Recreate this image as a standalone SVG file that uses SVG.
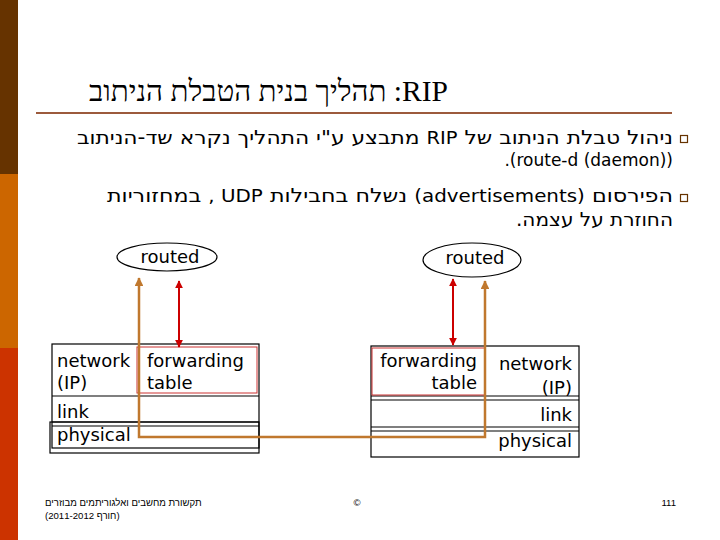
<svg xmlns="http://www.w3.org/2000/svg" width="720" height="540" viewBox="0 0 720 540">
<style>
.title{font-family:"Liberation Serif",serif;font-size:29.5px;fill:#000}
.body{font-family:"DejaVu Sans",sans-serif;font-size:19px;fill:#000}
.lat{font-size:17px}
.lbl{font-family:"DejaVu Sans",sans-serif;font-size:18px;fill:#000}
.foot{font-family:"Liberation Sans","DejaVu Sans",sans-serif;font-size:9.6px;fill:#000}
.box{fill:none;stroke:#000;stroke-width:1.2}
.fwd{fill:none;stroke:#CC3333;stroke-width:1}
.red{fill:none;stroke:#CC0000;stroke-width:2}
.org{fill:none;stroke:#C0782E;stroke-width:2.5}
.bul{fill:none;stroke:#663300;stroke-width:1.2}
</style>
<defs>
<marker id="ar" viewBox="0 0 10 10" refX="9" refY="5" markerWidth="4" markerHeight="4" orient="auto-start-reverse"><path d="M0,0 L10,5 L0,10 z" fill="#CC0000"/></marker>
<marker id="ao" viewBox="0 0 10 10" refX="9" refY="5" markerWidth="3.5" markerHeight="3.5" orient="auto-start-reverse"><path d="M0,0 L10,5 L0,10 z" fill="#C0782E"/></marker>
</defs>
<rect width="720" height="540" fill="#fff"/>
<g id="sidebar">
<rect x="0" y="0" width="18" height="174" fill="#663300"/>
<rect x="0" y="174" width="18" height="174" fill="#CC6600"/>
<rect x="0" y="348" width="18" height="192" fill="#CC3300"/>
</g>
<g id="title">
<text class="title" x="448" y="101" direction="rtl" text-anchor="start">RIP: תהליך בנית הטבלת הניתוב</text>
<line x1="36" y1="113" x2="672" y2="113" stroke="#9C5A3C" stroke-width="2"/>
</g>
<g id="bullets">
<rect class="bul" x="680.5" y="135.5" width="7" height="7"/>
<rect class="bul" x="680.5" y="194.5" width="7" height="7"/>
<text class="body" x="673" y="144" direction="rtl" text-anchor="start" textLength="596" lengthAdjust="spacingAndGlyphs">ניהול טבלת הניתוב של <tspan class="lat">RIP</tspan> מתבצע ע"י התהליך נקרא שד-הניתוב</text>
<text class="body lat" x="673" y="166" direction="rtl" text-anchor="start">(route-d (daemon)).</text>
<text class="body" x="673" y="202" direction="rtl" text-anchor="start" textLength="566" lengthAdjust="spacingAndGlyphs">הפירסום <tspan class="lat">(advertisements)</tspan> נשלח בחבילות <tspan class="lat">UDP ,</tspan> במחזוריות</text>
<text class="body" x="673" y="226" direction="rtl" text-anchor="start" textLength="157" lengthAdjust="spacingAndGlyphs">החוזרת על עצמה.</text>
</g>
<g id="routed-left">
<ellipse class="box" cx="167" cy="257" rx="50" ry="14" stroke-width="1"/>
<text class="lbl" x="170" y="263" text-anchor="middle">routed</text>
</g>
<g id="routed-right">
<ellipse class="box" cx="472" cy="260" rx="49" ry="17" stroke-width="1"/>
<text class="lbl" x="475" y="264" text-anchor="middle">routed</text>
</g>
<g id="stack-left">
<rect class="box" x="52" y="344" width="207" height="104"/>
<line class="box" x1="52" y1="396" x2="259" y2="396"/>
<line class="box" x1="52" y1="422" x2="259" y2="422"/>
<line class="box" x1="52" y1="426" x2="259" y2="426"/>
<rect class="box" x="50" y="422" width="209" height="31"/>
<rect class="fwd" x="137" y="347" width="120" height="46"/>
<text class="lbl" x="57" y="367">network</text>
<text class="lbl" x="57" y="389">(IP)</text>
<text class="lbl" x="147" y="367">forwarding</text>
<text class="lbl" x="147" y="389">table</text>
<text class="lbl" x="57" y="418">link</text>
<text class="lbl" x="57" y="441">physical</text>
</g>
<g id="stack-right">
<rect class="box" x="371" y="346" width="208" height="111"/>
<line class="box" x1="371" y1="396" x2="579" y2="396"/>
<line class="box" x1="371" y1="400" x2="579" y2="400"/>
<line class="box" x1="371" y1="427" x2="579" y2="427"/>
<line class="box" x1="371" y1="431" x2="579" y2="431"/>
<rect class="fwd" x="372" y="348" width="113" height="47"/>
<text class="lbl" x="477" y="367" text-anchor="end">forwarding</text>
<text class="lbl" x="477" y="389" text-anchor="end">table</text>
<text class="lbl" x="572" y="370" text-anchor="end">network</text>
<text class="lbl" x="572" y="394" text-anchor="end">(IP)</text>
<text class="lbl" x="572" y="421" text-anchor="end">link</text>
<text class="lbl" x="572" y="447" text-anchor="end">physical</text>
</g>
<g id="connectors">
<line class="red" x1="179" y1="281" x2="179" y2="347" marker-start="url(#ar)" marker-end="url(#ar)"/>
<line class="red" x1="453" y1="279" x2="453" y2="345" marker-start="url(#ar)" marker-end="url(#ar)"/>
<path class="org" d="M139,278 V437 H485 V281" marker-start="url(#ao)" marker-end="url(#ao)"/>
</g>
<g id="footer">
<text class="foot" x="45" y="506" direction="rtl" text-anchor="end">תקשורת מחשבים ואלגוריתמים מבוזרים</text>
<text class="foot" x="45" y="519" direction="rtl" text-anchor="end">(חורף 2011-2012)</text>
<text class="foot" x="357" y="506" text-anchor="middle">©</text>
<text class="foot" x="676" y="506" text-anchor="end">111</text>
</g>
</svg>
